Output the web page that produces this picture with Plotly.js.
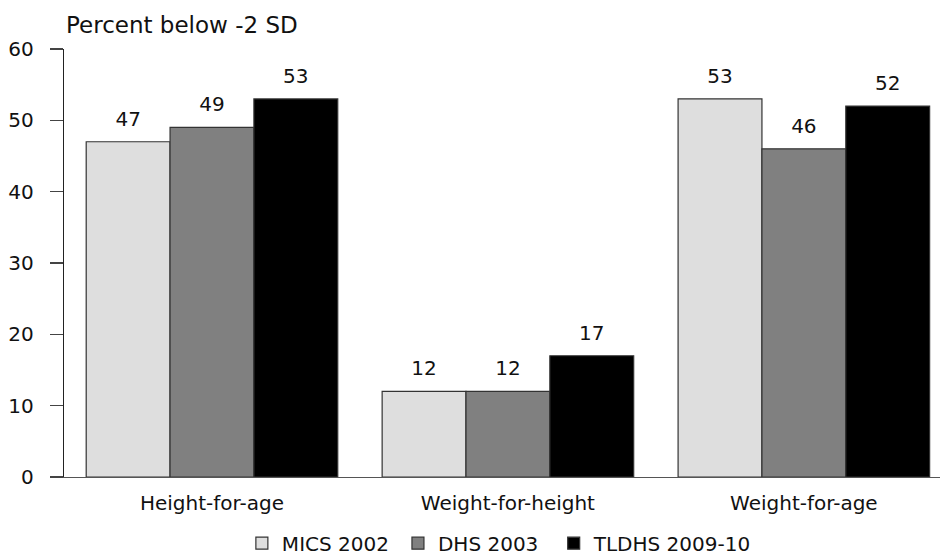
<!DOCTYPE html>
<html>
<head>
<meta charset="utf-8">
<script src="https://cdn.plot.ly/plotly-3.0.1.min.js"></script>
<style>html,body{margin:0;padding:0;background:#fff;}#chart{width:940px;height:556px;}</style>
</head>
<body>
<div id="chart"></div>
<script>
const categories = ["Height-for-age", "Weight-for-height", "Weight-for-age"];
const seriesNames = ["MICS 2002", "DHS 2003", "TLDHS 2009-10"];
const mics2002 = [47, 12, 53];
const dhs2003 = [49, 12, 46];
const tldhs2009 = [53, 17, 52];
const seriesColors = ["#dedede", "#808080", "#000000"];
const yTicks = [0, 10, 20, 30, 40, 50, 60];
const yTitle = "Percent below -2 SD";

const FONT = "'DejaVu Sans', sans-serif";
const SPACER = "<span style='font-size:56px'> </span>";
const LEGEND_PAD = ["\u2009", "\u00a0\u2009", ""];
const allValues = [mics2002, dhs2003, tldhs2009];
const traces = allValues.map((vals, i) => ({
  type: "bar",
  name: seriesNames[i] + LEGEND_PAD[i],
  x: categories,
  y: vals,
  texttemplate: SPACER + "%{y}" + SPACER,
  textposition: "outside",
  constraintext: "none",
  cliponaxis: false,
  textfont: {family: FONT, size: 20, color: "#111"},
  marker: {color: seriesColors[i], line: {color: "#333", width: 1.2}},
  hoverinfo: "none"
}));

const layout = {
  width: 940, height: 556,
  margin: {l: 64, r: 0, t: 49, b: 79, autoexpand: false},
  paper_bgcolor: "#fff", plot_bgcolor: "#fff",
  font: {family: FONT, size: 20, color: "#111"},
  barmode: "group",
  bargap: 0.15,
  bargroupgap: 0,
  showlegend: true,
  legend: {
    orientation: "h", xref: "paper", x: 0.497, xanchor: "center",
    yref: "container", y: 0.023, yanchor: "middle",
    font: {family: FONT, size: 20, color: "#111"},
    itemwidth: 30,
    traceorder: "normal", itemclick: false
  },
  xaxis: {
    type: "category",
    range: [-0.5, 2.46],
    automargin: false,
    showline: true, linecolor: "#555", linewidth: 1.2,
    ticks: "", showgrid: false, zeroline: false,
    ticklabelstandoff: 8,
    tickfont: {family: FONT, size: 20, color: "#111"}
  },
  yaxis: {
    range: [0, 60],
    automargin: false,
    tickvals: yTicks,
    showline: true, linecolor: "#222", linewidth: 1.2,
    ticks: "outside", ticklen: 13, tickcolor: "#444", tickwidth: 1.2,
    ticklabelstandoff: 12,
    showgrid: false, zeroline: false,
    tickfont: {family: FONT, size: 20, color: "#111"}
  },
  annotations: [{
    text: yTitle, xref: "paper", yref: "paper",
    x: 0, y: 1, xanchor: "left", yanchor: "middle", yshift: 24, xshift: 0,
    showarrow: false,
    font: {family: FONT, size: 23, color: "#111"}
  }]
};

Plotly.newPlot("chart", traces, layout, {displayModeBar: false, staticPlot: true});
</script>
</body>
</html>
